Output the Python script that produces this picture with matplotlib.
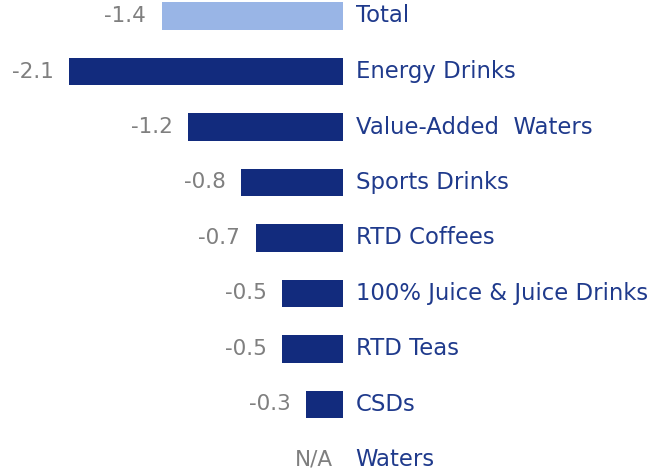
import matplotlib
matplotlib.use("Agg")
import matplotlib.pyplot as plt

categories = ["Total", "Energy Drinks", "Value-Added  Waters", "Sports Drinks", "RTD Coffees",
              "100% Juice & Juice Drinks", "RTD Teas", "CSDs", "Waters"]
values = [-1.39, -2.1, -1.19, -0.78, -0.67, -0.47, -0.47, -0.28, None]
value_labels = ["-1.4", "-2.1", "-1.2", "-0.8", "-0.7", "-0.5", "-0.5", "-0.3", "N/A"]
bar_colors = ["#99B5E6"] + ["#122B7D"] * 8

plt.rcParams['font.family'] = ['DejaVu Sans']
fig = plt.figure(figsize=(6.69, 4.71), dpi=100)
ax = fig.add_axes([0, 0, 1, 1])

px_per_unit = 130.5
row_h = 55.5
ax.set_xlim(-343 / px_per_unit, (669 - 343) / px_per_unit)
ax.set_ylim((471 - 16) / row_h, -16 / row_h)

fs_val = 15.5
fs_cat = 16.4
for i, (cat, v, lab, c) in enumerate(zip(categories, values, value_labels, bar_colors)):
    if v is not None:
        ax.barh(i, v, height=0.5, color=c, edgecolor='none')
        ax.annotate(lab, (v, i), xytext=(-11, 0), textcoords='offset points',
                    ha='right', va='center', fontsize=fs_val, color='#7F7F7F')
    else:
        ax.annotate(lab, (0, i), xytext=(-7, 0), textcoords='offset points',
                    ha='right', va='center', fontsize=fs_val, color='#7F7F7F')
    ax.annotate(cat, (0, i), xytext=(9, 0), textcoords='offset points',
                ha='left', va='center', fontsize=fs_cat, color='#1F3A8C')

ax.axis('off')
fig.savefig("out.png", dpi=100)
